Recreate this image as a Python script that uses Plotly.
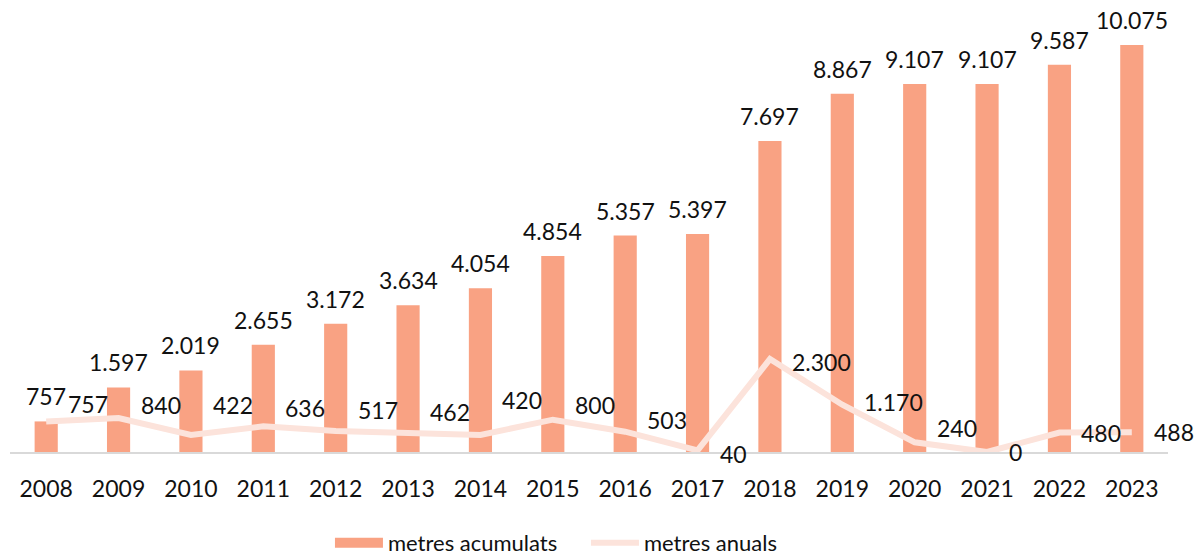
import plotly.graph_objects as go

years = list(range(2008, 2024))
metres_acumulats = [757, 1597, 2019, 2655, 3172, 3634, 4054, 4854, 5357, 5397,
                    7697, 8867, 9107, 9107, 9587, 10075]
metres_anuals = [757, 840, 422, 636, 517, 462, 420, 800, 503, 40,
                 2300, 1170, 240, 0, 480, 488]

# label vertical nudges (pixels) for annual labels, as placed in the original
line_label_yshift = [17, 13, 30, 18, 21, 21, 35, 15, 12, -4, -3, 3, 14, 0, 0, 0]

BAR_COLOR = "#F9A283"
LINE_COLOR = "#FCE3DB"
FONT = "Lato"
FS = 23


def fmt(v):
    return f"{v:,}".replace(",", ".")


fig = go.Figure()
fig.add_trace(go.Bar(
    x=years, y=metres_acumulats, name="metres acumulats",
    marker=dict(color=BAR_COLOR, line=dict(width=0)),
    showlegend=False,
))
# legend-only entry drawn as a wide swatch for the bars
fig.add_trace(go.Scatter(
    x=[None], y=[None], name="metres acumulats", mode="lines",
    line=dict(color=BAR_COLOR, width=15), legendrank=1,
))
fig.add_trace(go.Scatter(
    x=years, y=metres_anuals, name="metres anuals", mode="lines",
    line=dict(color=LINE_COLOR, width=6), legendrank=2,
))

annotations = []
for x, v in zip(years, metres_acumulats):
    annotations.append(dict(x=x, y=v, xref="x", yref="y", text=fmt(v),
                            showarrow=False, xanchor="center", yanchor="middle",
                            yshift=25, font=dict(family=FONT, size=FS, color="#111111")))
for x, v, dy in zip(years, metres_anuals, line_label_yshift):
    annotations.append(dict(x=x, y=v, xref="x", yref="y", text=fmt(v),
                            showarrow=False, xanchor="left", yanchor="middle",
                            xshift=20, yshift=dy,
                            font=dict(family=FONT, size=FS, color="#111111")))

fig.update_layout(
    width=1199, height=557,
    margin=dict(l=10, r=31, t=10, b=105, autoexpand=False),
    paper_bgcolor="white", plot_bgcolor="white",
    bargap=0.68,
    font=dict(family=FONT, size=FS, color="#111111"),
    showlegend=True,
    legend=dict(orientation="h", x=0.2763, xanchor="left", y=-0.206, yanchor="middle",
                font=dict(family=FONT, size=22, color="#111111"),
                itemwidth=48, entrywidth=193, tracegroupgap=0, traceorder="normal"),
    annotations=annotations,
    xaxis=dict(type="linear", range=[2007.5, 2023.5], tickmode="array", tickvals=years,
               ticktext=[str(y) for y in years],
               showgrid=False, zeroline=False, showline=True, linecolor="#D9D9D9",
               linewidth=2, ticks="", tickfont=dict(family=FONT, size=FS, color="#111111"),
               ticklabelstandoff=15),
    yaxis=dict(range=[0, 10940], visible=False, showgrid=False, zeroline=False),
)

fig.write_html("out.html", config={"displayModeBar": False},
               post_script="document.body.style.margin='0';")
